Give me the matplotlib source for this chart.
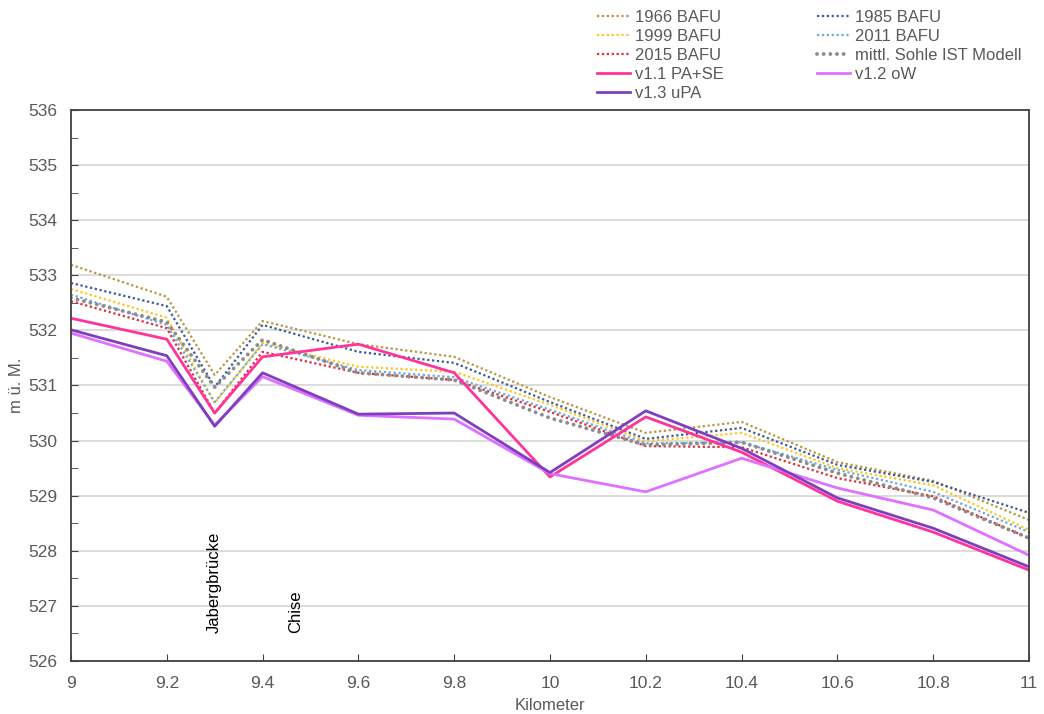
import matplotlib.pyplot as plt
from matplotlib.ticker import MultipleLocator

plt.rcParams['font.family'] = ['Liberation Sans', 'DejaVu Sans']

# Kilometrierung der Querprofile
km = [9.0, 9.2, 9.3, 9.4, 9.6, 9.8, 10.0, 10.2, 10.4, 10.6, 10.8, 11.0]

# Sohlenhoehen [m ü. M.]
bafu1966 = [533.19, 532.61, 531.19, 532.17, 531.75, 531.52, 530.79, 530.14, 530.34, 529.61, 529.27, 528.56]
bafu1985 = [532.86, 532.44, 530.97, 532.10, 531.61, 531.41, 530.70, 530.03, 530.23, 529.56, 529.25, 528.69]
bafu1999 = [532.75, 532.23, 530.68, 531.77, 531.34, 531.25, 530.65, 529.99, 530.14, 529.50, 529.19, 528.38]
bafu2011 = [532.65, 532.10, 530.70, 531.75, 531.28, 531.15, 530.56, 529.95, 529.97, 529.47, 529.07, 528.34]
bafu2015 = [532.53, 532.04, 530.50, 531.61, 531.23, 531.10, 530.52, 529.90, 529.88, 529.32, 528.99, 528.23]
ist_modell = [532.59, 532.15, 530.97, 531.83, 531.23, 531.10, 530.41, 529.92, 529.97, 529.41, 528.96, 528.23]
v11_pase = [532.22, 531.84, 530.50, 531.52, 531.75, 531.23, 529.34, 530.43, 529.79, 528.90, 528.34, 527.65]
v12_ow = [531.95, 531.44, 530.28, 531.16, 530.46, 530.39, 529.40, 529.07, 529.68, 529.14, 528.74, 527.92]
v13_upa = [532.01, 531.54, 530.26, 531.23, 530.48, 530.50, 529.42, 530.54, 529.86, 528.96, 528.41, 527.71]

# Bauwerke entlang der Strecke
marker_km = [9.3, 9.47]
marker_names = ['Jabergbrücke', 'Chise']

txt = '#595959'

fig = plt.figure(figsize=(10.44, 7.14), dpi=100)
ax = fig.add_axes([0.068, 0.0742, 0.9176, 0.7718])

dot = (0, (1, 1.2))
l1, = ax.plot(km, bafu1966, color='#B8963E', lw=1.6, ls=dot, label='1966 BAFU')
l2, = ax.plot(km, bafu1985, color='#3B5A98', lw=1.6, ls=dot, label='1985 BAFU')
l3, = ax.plot(km, bafu1999, color='#FFC61A', lw=1.6, ls=dot, label='1999 BAFU')
l4, = ax.plot(km, bafu2011, color='#6FA8DC', lw=1.6, ls=dot, label='2011 BAFU')
l5, = ax.plot(km, bafu2015, color='#DD2E35', lw=1.6, ls=dot, label='2015 BAFU')
l6, = ax.plot(km, ist_modell, color='#8C8C8C', lw=2.8, ls=(0, (0.01, 1.7)),
              dash_capstyle='round', label='mittl. Sohle IST Modell')
l7, = ax.plot(km, v11_pase, color='#FF3399', lw=2.0, label='v1.1 PA+SE')
l8, = ax.plot(km, v12_ow, color='#E070FF', lw=2.0, label='v1.2 oW')
l9, = ax.plot(km, v13_upa, color='#7E3FBF', lw=2.0, label='v1.3 uPA')

for xk, name in zip(marker_km, marker_names):
    ax.text(xk, 526.5, name, rotation=90, ha='center', va='bottom',
            fontsize=12, color='black')

ax.set_xlim(9, 11)
ax.set_ylim(526, 536)
ax.yaxis.set_major_locator(MultipleLocator(1))
ax.yaxis.set_minor_locator(MultipleLocator(0.5))
ax.set_xticks([9, 9.2, 9.4, 9.6, 9.8, 10, 10.2, 10.4, 10.6, 10.8, 11])
ax.set_xticklabels(['9', '9.2', '9.4', '9.6', '9.8', '10', '10.2', '10.4', '10.6', '10.8', '11'])
ax.yaxis.grid(True, which='major', color='#D9D9D9', lw=1.3)
ax.set_axisbelow(True)

ax.tick_params(axis='both', which='both', direction='in', colors='#404040',
               labelcolor=txt, labelsize=12.5)
ax.tick_params(axis='y', which='both', length=5, pad=10)
ax.tick_params(axis='x', which='major', length=5, pad=11)
for s in ax.spines.values():
    s.set_color('#404040')
    s.set_linewidth(1.3)

ax.set_xlabel('Kilometer', fontsize=12, color=txt, labelpad=5)
ax.set_ylabel('m ü. M.', fontsize=12, color=txt, labelpad=3)

handles = [l1, l3, l5, l7, l9, l2, l4, l6, l8]
leg = fig.legend(handles=handles, ncol=2, loc='upper right',
                 bbox_to_anchor=(0.988, 1.0), frameon=False, fontsize=12,
                 labelspacing=0.24, handlelength=2.0, handletextpad=0.3,
                 columnspacing=5.55, borderaxespad=0.2)
for t in leg.get_texts():
    t.set_color(txt)

fig.savefig('out.png', dpi=100)
